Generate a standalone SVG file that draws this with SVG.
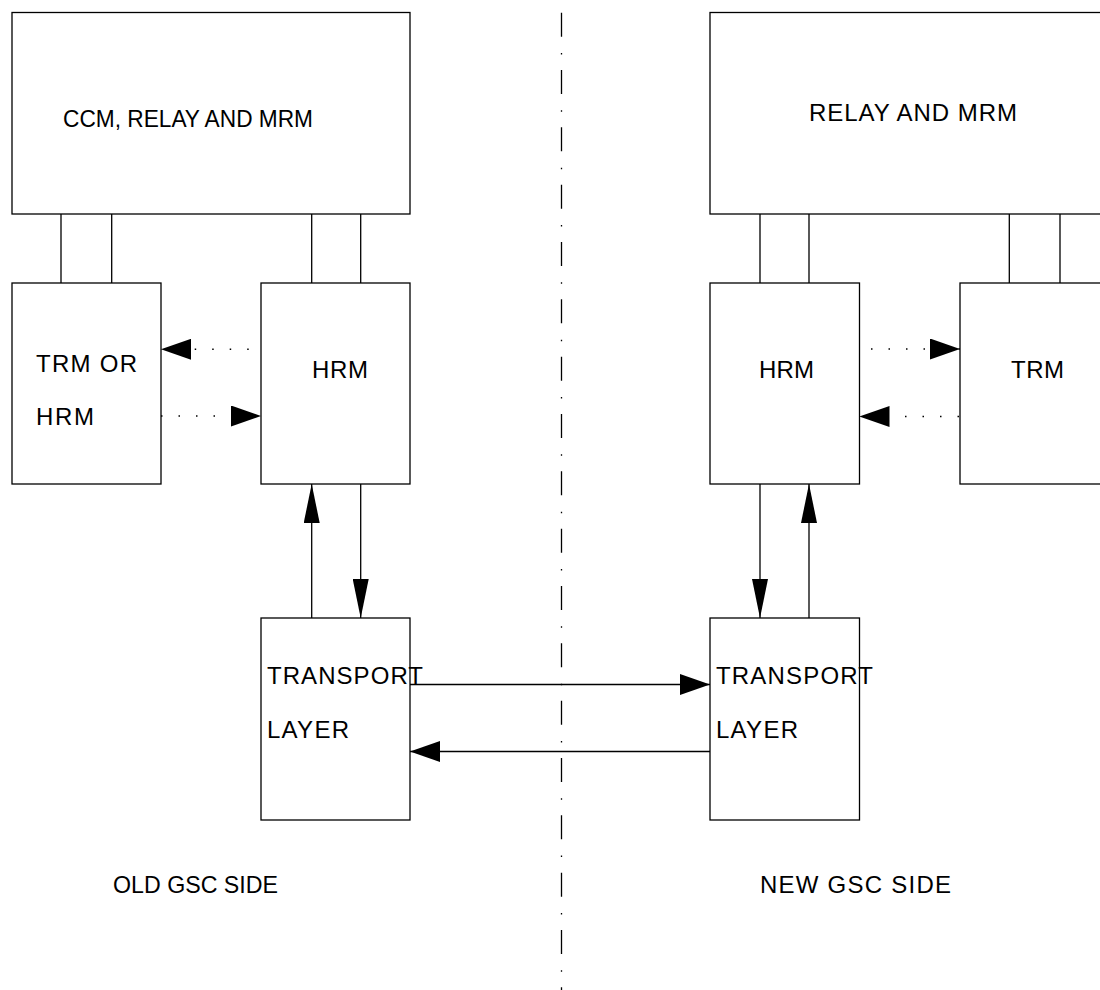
<svg xmlns="http://www.w3.org/2000/svg" width="1100" height="990" viewBox="0 0 1100 990">
<style>
.box{fill:#fff;stroke:#000;stroke-width:1.3}
.ln{fill:none;stroke:#000;stroke-width:1.3}
.dot{fill:none;stroke:#000;stroke-width:1.5;stroke-dasharray:1.5 16}
.t{font-family:"Liberation Sans",Arial,sans-serif;font-size:24px;fill:#000}
</style>
<defs>
<marker id="ah" markerUnits="userSpaceOnUse" markerWidth="30" markerHeight="21" refX="30" refY="10.5" orient="auto"><path d="M0,0 L30,10.5 L0,21 Z" fill="#000"/></marker>
<marker id="av" markerUnits="userSpaceOnUse" markerWidth="39" markerHeight="16" refX="39" refY="8" orient="auto"><path d="M0,0 L39,8 L0,16 Z" fill="#000"/></marker>
</defs>
<rect width="1100" height="990" fill="#fff"/>
<g id="centerline"><path d="M561.5,12.7 L561.5,990" fill="none" stroke="#000" stroke-width="1.3" stroke-dasharray="24 16.3 1.5 15.53"/></g>
<g id="connectors">
<path class="ln" d="M61,214 V283 M111.7,214 V283 M311.7,214 V283 M360.7,214 V283 M760,214 V283 M809,214 V283 M1009.3,214 V283 M1060,214 V283"/>
<path class="ln" d="M311.7,618 V484" marker-end="url(#av)"/>
<path class="ln" d="M360.7,484 V618" marker-end="url(#av)"/>
<path class="ln" d="M760,484 V618" marker-end="url(#av)"/>
<path class="ln" d="M809,618 V484" marker-end="url(#av)"/>
<path class="ln" d="M410,684.5 H710" marker-end="url(#ah)"/>
<path class="ln" d="M710,751.5 H410" marker-end="url(#ah)"/>
<path class="dot" d="M248.7,349.3 H161" marker-end="url(#ah)"/>
<path class="dot" d="M161,416 H261" marker-end="url(#ah)"/>
<path class="dot" d="M871,349 H960" marker-end="url(#ah)"/>
<path class="dot" d="M959,416.5 H859.5" marker-end="url(#ah)"/>
</g>
<g id="ccm"><rect class="box" x="12" y="12.5" width="398" height="201.5"/><text class="t" x="63" y="126.5" textLength="250" lengthAdjust="spacingAndGlyphs">CCM, RELAY AND MRM</text></g>
<g id="relay"><rect class="box" x="710" y="12.5" width="400" height="201.5"/><text class="t" x="809" y="120.5" textLength="208" lengthAdjust="spacing">RELAY AND MRM</text></g>
<g id="trmhrm"><rect class="box" x="12" y="283" width="149" height="201"/><text class="t" x="36" y="372" textLength="101" lengthAdjust="spacing">TRM OR</text><text class="t" x="36" y="424.5" textLength="58" lengthAdjust="spacing">HRM</text></g>
<g id="hrm-old"><rect class="box" x="261" y="283" width="149" height="201"/><text class="t" x="312" y="378" textLength="56" lengthAdjust="spacing">HRM</text></g>
<g id="hrm-new"><rect class="box" x="710" y="283" width="149.5" height="201"/><text class="t" x="759" y="378" textLength="55" lengthAdjust="spacing">HRM</text></g>
<g id="trm-new"><rect class="box" x="960" y="283" width="150" height="201"/><text class="t" x="1011" y="378" textLength="53" lengthAdjust="spacing">TRM</text></g>
<g id="tl-old"><rect class="box" x="261" y="618" width="149" height="202"/><text class="t" x="267" y="683.5" textLength="156" lengthAdjust="spacing">TRANSPORT</text><text class="t" x="267" y="737.5" textLength="82" lengthAdjust="spacing">LAYER</text></g>
<g id="tl-new"><rect class="box" x="710" y="618" width="149.5" height="202"/><text class="t" x="716" y="683.5" textLength="157" lengthAdjust="spacing">TRANSPORT</text><text class="t" x="716" y="737.5" textLength="82" lengthAdjust="spacing">LAYER</text></g>
<g id="old-label"><text class="t" x="113" y="892.5" textLength="165" lengthAdjust="spacingAndGlyphs">OLD GSC SIDE</text></g>
<g id="new-label"><text class="t" x="760" y="892.5" textLength="191" lengthAdjust="spacing">NEW GSC SIDE</text></g>
</svg>
